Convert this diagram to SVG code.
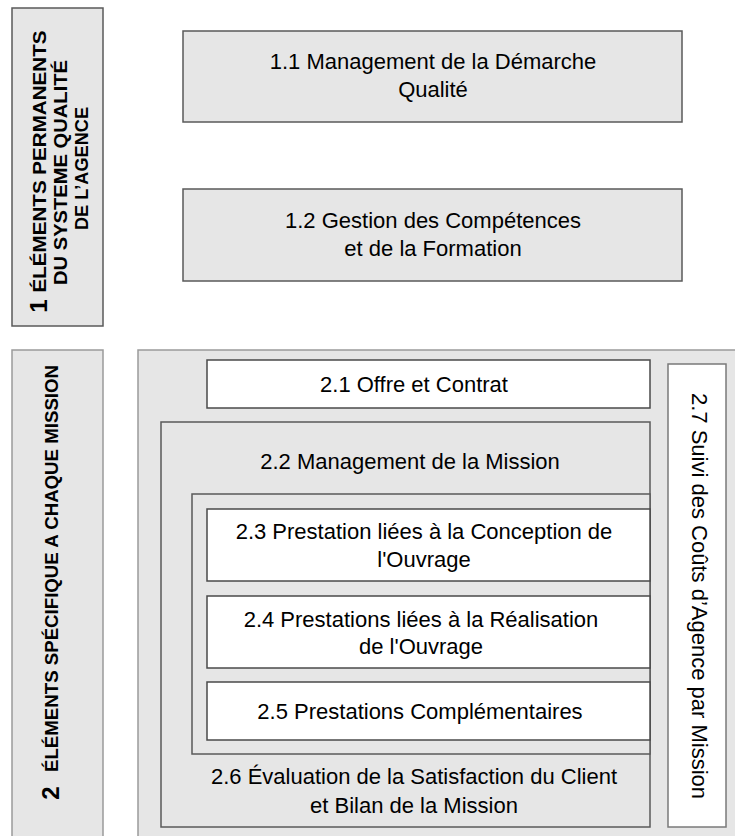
<svg xmlns="http://www.w3.org/2000/svg" width="735" height="836" viewBox="0 0 735 836">
<style>
.g{fill:#e6e6e6;stroke:#5a5a5a;stroke-width:1.5}
.gl{fill:#e6e6e6;stroke:#9a9a9a;stroke-width:1.5}
.w{fill:#ffffff;stroke:#4a4a4a;stroke-width:1.5}
.wl{fill:#ffffff;stroke:#7a7a7a;stroke-width:1.5}
text{font-family:"Liberation Sans",Arial,sans-serif;fill:#000}
.t{font-size:22px;text-anchor:middle}
.b{font-size:18.5px;font-weight:bold;text-anchor:middle}
.n{font-size:24px;font-weight:bold;text-anchor:middle}
</style>
<g id="group1">
<rect class="g" x="12" y="8" width="91" height="318"/>
<text class="n" transform="translate(46.5,306) rotate(-90)">1</text>
<text class="b" transform="translate(46,161.5) rotate(-90)" textLength="262" lengthAdjust="spacingAndGlyphs">ÉLÉMENTS PERMANENTS</text>
<text class="b" transform="translate(67,172.5) rotate(-90)" textLength="225" lengthAdjust="spacingAndGlyphs">DU SYSTEME QUALITÉ</text>
<text class="b" transform="translate(88,168.5) rotate(-90)" textLength="123" lengthAdjust="spacingAndGlyphs">DE L’AGENCE</text>
</g>
<g id="n11">
<rect class="g" x="183" y="31" width="499" height="91"/>
<text class="t" x="433" y="69">1.1 Management de la Démarche</text>
<text class="t" x="433" y="97">Qualité</text>
</g>
<g id="n12">
<rect class="g" x="183" y="189" width="499" height="92"/>
<text class="t" x="433" y="228">1.2 Gestion des Compétences</text>
<text class="t" x="433" y="256">et de la Formation</text>
</g>
<g id="group2">
<rect class="gl" x="12" y="350" width="91" height="500"/>
<text class="n" transform="translate(58.5,793) rotate(-90)">2</text>
<text class="b" transform="translate(58,568.5) rotate(-90)" textLength="407" lengthAdjust="spacingAndGlyphs">ÉLÉMENTS SPÉCIFIQUE A CHAQUE MISSION</text>
</g>
<g id="outer2">
<rect class="gl" x="138" y="350" width="610" height="500"/>
</g>
<g id="n21">
<rect class="w" x="207" y="360" width="443" height="48"/>
<text class="t" x="414" y="392">2.1 Offre et Contrat</text>
</g>
<g id="n22">
<rect class="g" x="161" y="422" width="489" height="405"/>
<text class="t" x="410" y="469">2.2 Management de la Mission</text>
</g>
<g id="inner">
<rect class="g" x="192" y="494" width="458" height="260"/>
</g>
<g id="n23">
<rect class="w" x="207" y="509" width="443" height="72"/>
<text class="t" x="424" y="539">2.3 Prestation liées à la Conception de</text>
<text class="t" x="424" y="567">l'Ouvrage</text>
</g>
<g id="n24">
<rect class="w" x="207" y="596" width="443" height="72"/>
<text class="t" x="421" y="627">2.4 Prestations liées à la Réalisation</text>
<text class="t" x="421" y="654">de l'Ouvrage</text>
</g>
<g id="n25">
<rect class="w" x="207" y="682" width="443" height="58"/>
<text class="t" x="420" y="719">2.5 Prestations Complémentaires</text>
</g>
<g id="n26">
<text class="t" x="414" y="784">2.6 Évaluation de la Satisfaction du Client</text>
<text class="t" x="414" y="813">et Bilan de la Mission</text>
</g>
<g id="n27">
<rect class="wl" x="668" y="364" width="58" height="463"/>
<text class="t" transform="translate(692,596) rotate(90)" font-size="22.5">2.7 Suivi des Coûts d’Agence par Mission</text>
</g>
<g id="connectors"/>
</svg>
